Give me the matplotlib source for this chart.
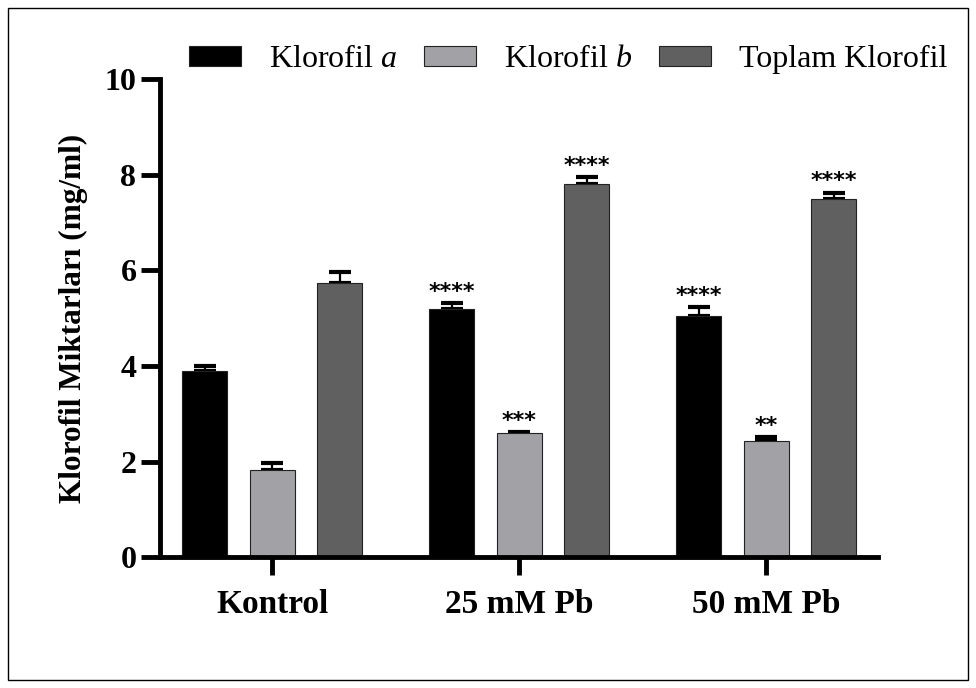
import numpy as np
import matplotlib
matplotlib.use("Agg")
import matplotlib.pyplot as plt
from matplotlib.patches import Rectangle

# ── data ─────────────────────────────────────────────
groups = ["Kontrol", "25 mM Pb", "50 mM Pb"]
series = ["Klorofil $\\it{a}$", "Klorofil $\\it{b}$", "Toplam Klorofil"]
klorofil_a = [3.89, 5.19, 5.04]
klorofil_b = [1.82, 2.59, 2.43]
toplam = [5.73, 7.80, 7.49]
err_a = [0.10, 0.12, 0.19]
err_b = [0.15, 0.03, 0.08]
err_t = [0.23, 0.15, 0.13]
stars_a = ["", "****", "****"]
stars_b = ["", "***", "**"]
stars_t = ["", "****", "****"]

plt.rcParams["font.family"] = ["Liberation Serif", "DejaVu Serif"]
plt.rcParams["mathtext.fontset"] = "custom"
plt.rcParams["mathtext.it"] = "Liberation Serif:italic"
plt.rcParams["mathtext.rm"] = "Liberation Serif"

fig = plt.figure(figsize=(9.76, 6.88), dpi=100)
ax = fig.add_axes([0.164, 0.190, 0.736, 0.695])

# outer frame around the figure
fig.patches.append(Rectangle((0.008, 0.012), 0.984, 0.976, transform=fig.transFigure,
                             fill=False, edgecolor="black", lw=1.0))

x = np.arange(len(groups))
w = 0.182
pitch = 0.273
colors = ["#000000", "#a2a2a6", "#606060"]
vals = [klorofil_a, klorofil_b, toplam]
errs = [err_a, err_b, err_t]
stars = [stars_a, stars_b, stars_t]

for i in range(3):
    pos = x + (i - 1) * pitch
    ax.bar(pos, vals[i], width=w, color=colors[i], edgecolor="#222222", lw=0.8,
           label=series[i], zorder=2)
    ax.errorbar(pos, vals[i], yerr=[np.zeros(3), errs[i]], fmt="none",
                ecolor="black", elinewidth=1.6, capsize=8, capthick=3, zorder=1)
    for p, v, e, s in zip(pos, vals[i], errs[i], stars[i]):
        if s:
            ax.text(p, v + e + 0.03, s, ha="center", va="bottom", fontsize=16,
                    family=["DejaVu Sans"], fontweight="bold")

ax.set_xlim(-0.453, 2.453)
ax.set_ylim(0, 10)
ax.set_yticks([0, 2, 4, 6, 8, 10])
ax.set_xticks(x)
ax.set_xticklabels(groups, fontsize=24, fontweight="bold")
for lab in ax.get_yticklabels():
    lab.set_fontsize(23)
    lab.set_fontweight("bold")
ax.set_ylabel("Klorofil Miktarları (mg/ml)", fontsize=22.5, fontweight="bold", labelpad=12)

for side in ["top", "right"]:
    ax.spines[side].set_visible(False)
for side in ["left", "bottom"]:
    ax.spines[side].set_linewidth(3.5)
ax.tick_params(axis="y", direction="out", length=14, width=3.5, pad=3)
ax.tick_params(axis="x", direction="out", length=13, width=3.5, pad=10)

fig.legend(loc="center", bbox_to_anchor=(0.582, 0.913), ncol=3, frameon=False,
           fontsize=23, handlelength=1.63, handleheight=0.55, columnspacing=0.85,
           handletextpad=0.87)

fig.savefig("out.png", dpi=100)
